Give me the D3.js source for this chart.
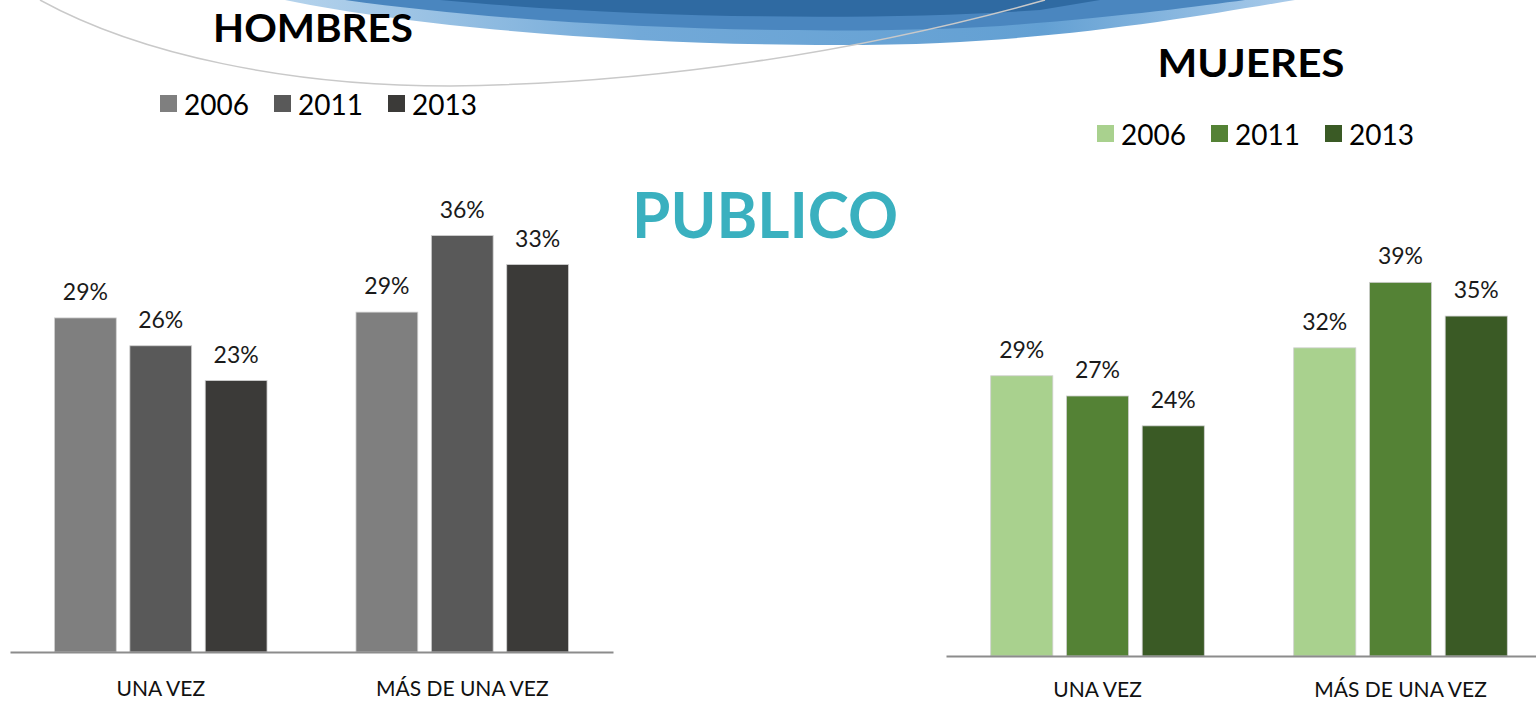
<!DOCTYPE html>
<html>
<head>
<meta charset="utf-8">
<script src="https://cdn.jsdelivr.net/npm/d3@7"></script>
<style>
  body { margin: 0; background: #fff; }
  svg { display: block; font-family: Lato, "Open Sans", sans-serif; }
</style>
</head>
<body>
<div id="wrapper"></div>
<script>
const categories = ['UNA VEZ', 'MÁS DE UNA VEZ']
const years = ['2006', '2011', '2013']

const hombres2006 = [0.288, 0.293]
const hombres2011 = [0.264, 0.359]
const hombres2013 = [0.234, 0.334]

const mujeres2006 = [0.291, 0.320]
const mujeres2011 = [0.270, 0.388]
const mujeres2013 = [0.239, 0.353]

const grayColors = ['#7f7f7f', '#595959', '#3b3a38']
const greenColors = ['#a9d18e', '#548235', '#3a5a25']

const width = 1536
const height = 701

const svg = d3.select('#wrapper').append('svg')
    .attr('width', width)
    .attr('height', height)

// decorative swoosh at the top
const defs = svg.append('defs')
const grad = defs.append('linearGradient').attr('id', 'swoosh')
    .attr('x1', '0%').attr('x2', '100%')
grad.append('stop').attr('offset', '0%').attr('stop-color', '#b5d3ec')
grad.append('stop').attr('offset', '35%').attr('stop-color', '#72a9d8')
grad.append('stop').attr('offset', '75%').attr('stop-color', '#63a0d3')
grad.append('stop').attr('offset', '100%').attr('stop-color', '#a9cbea')

const deco = svg.append('g')
deco.append('path')
    .attr('d', 'M285,0 C480,40 780,50 940,43 C1090,36 1210,14 1295,0 Z')
    .attr('fill', 'url(#swoosh)')
deco.append('path')
    .attr('d', 'M345,0 C560,30 840,36 1000,26 C1120,17 1200,6 1245,0 Z')
    .attr('fill', '#4a86bf')
deco.append('path')
    .attr('d', 'M440,0 C640,19 880,21 1040,10 L1100,0 Z')
    .attr('fill', '#2f6aa2')
deco.append('path')
    .attr('d', 'M40,0 C140,55 290,86 450,86 C650,84 860,52 1045,0')
    .attr('fill', 'none')
    .attr('stroke', '#c9c9c9')
    .attr('stroke-width', 1.5)

// big centre title
svg.append('text')
    .attr('x', 765).attr('y', 238)
    .attr('text-anchor', 'middle')
    .attr('font-size', 64)
    .attr('font-weight', 'bold')
    .attr('fill', '#3ab0bf')
    .attr('textLength', 266)
    .attr('lengthAdjust', 'spacingAndGlyphs')
    .text('PUBLICO')

function drawChart(opts) {
    const series = opts.series
    const rows = categories.map((c, i) => ({
        cat: c,
        values: years.map((y, j) => ({ year: y, value: series[j][i], color: opts.colors[j] }))
    }))

    const x0 = d3.scaleBand()
        .domain(categories)
        .range(opts.xRange)
        .paddingInner(0)
        .paddingOuter(0)

    const x1 = d3.scaleBand()
        .domain(years)
        .range([0, x0.bandwidth()])
        .paddingInner(0.18)
        .paddingOuter(0.59)

    const yScale = d3.scaleLinear()
        .domain([0, 0.4])
        .range([opts.baseline, opts.baseline - 0.4 * opts.pxPerUnit])

    const g = svg.append('g')

    const groups = g.selectAll('.grp')
        .data(rows)
        .enter()
        .append('g')
        .attr('class', 'grp')
        .attr('transform', d => `translate(${x0(d.cat)},0)`)

    groups.selectAll('rect')
        .data(d => d.values)
        .enter()
        .append('rect')
        .attr('x', d => x1(d.year))
        .attr('y', d => yScale(d.value))
        .attr('width', x1.bandwidth())
        .attr('height', d => opts.baseline - yScale(d.value))
        .attr('fill', d => d.color)
        .attr('stroke', '#d0d0d0')
        .attr('stroke-width', 0.8)

    groups.selectAll('.lbl')
        .data(d => d.values)
        .enter()
        .append('text')
        .attr('class', 'lbl')
        .attr('x', d => x1(d.year) + x1.bandwidth() / 2)
        .attr('y', d => yScale(d.value) - 18)
        .attr('text-anchor', 'middle')
        .attr('font-size', 23)
        .attr('fill', '#1a1a1a')
        .text(d => d3.format('.0%')(d.value))

    const xAxis = d3.axisBottom(x0)
        .tickSize(0)
        .tickSizeOuter(0)
        .tickPadding(opts.tickPad)

    const axisG = g.append('g')
        .attr('transform', `translate(0,${opts.baseline})`)
        .call(xAxis)
    axisG.select('.domain')
        .attr('stroke', '#8c8c8c')
        .attr('stroke-width', 2)
    axisG.selectAll('text')
        .attr('font-family', 'Lato, sans-serif')
        .attr('font-size', 21)
        .attr('fill', '#111')

    // title
    svg.append('text')
        .attr('x', opts.titleX).attr('y', opts.titleY)
        .attr('text-anchor', 'middle')
        .attr('font-size', 38)
        .attr('font-weight', 'bold')
        .attr('fill', '#000')
        .attr('textLength', opts.titleW)
        .attr('lengthAdjust', 'spacingAndGlyphs')
        .text(opts.title)

    // legend
    const legend = svg.append('g')
        .attr('transform', `translate(${opts.legendX},${opts.legendY})`)
    const item = legend.selectAll('g')
        .data(years)
        .enter()
        .append('g')
        .attr('transform', (d, i) => `translate(${i * 114},0)`)
    item.append('rect')
        .attr('x', 0).attr('y', -17)
        .attr('width', 17).attr('height', 17)
        .attr('fill', (d, i) => opts.colors[i])
    item.append('text')
        .attr('x', 24).attr('y', 3)
        .attr('font-size', 28)
        .attr('fill', '#000')
        .text(d => d)
}

drawChart({
    series: [hombres2006, hombres2011, hombres2013],
    colors: grayColors,
    xRange: [10, 613],
    baseline: 652,
    pxPerUnit: 1160,
    tickPad: 29,
    title: 'HOMBRES',
    titleX: 313, titleY: 42, titleW: 200,
    legendX: 160, legendY: 112
})

drawChart({
    series: [mujeres2006, mujeres2011, mujeres2013],
    colors: greenColors,
    xRange: [946, 1552],
    baseline: 656,
    pxPerUnit: 963,
    tickPad: 26,
    title: 'MUJERES',
    titleX: 1251, titleY: 77, titleW: 187,
    legendX: 1097, legendY: 142
})
</script>
</body>
</html>
